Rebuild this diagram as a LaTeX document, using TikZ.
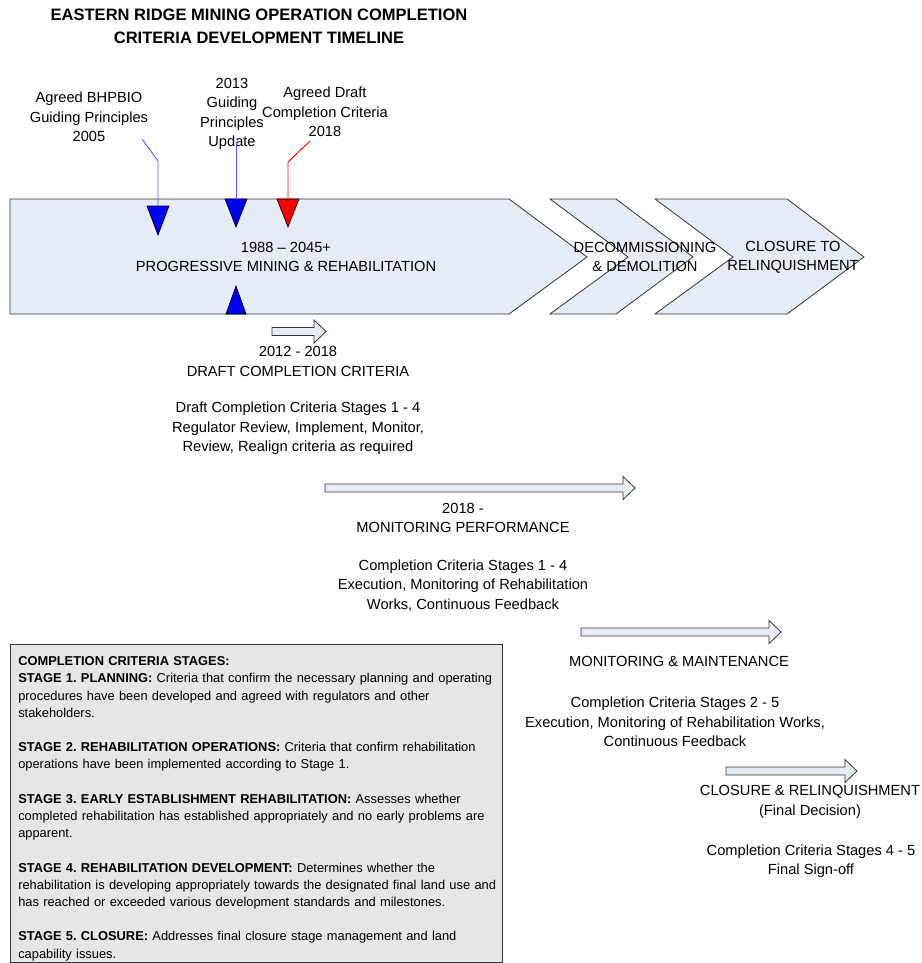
\documentclass[tikz,border=0pt]{standalone}
\usepackage{fontspec}
\setmainfont{Liberation Sans}
\usetikzlibrary{positioning, calc}
\frenchspacing

\definecolor{phasefill}{RGB}{230,236,246}
\definecolor{boxfill}{RGB}{230,230,230}
\definecolor{markblue}{RGB}{0,0,255}
\definecolor{lineblue}{RGB}{90,90,255}

\begin{document}
\begin{tikzpicture}[
      x=0.75pt, y=-0.75pt,
      lbl/.style={font=\fontsize{11}{14.5}\selectfont, align=center, inner sep=0pt},
      heading/.style={font=\bfseries\fontsize{12.4}{17.2}\selectfont, align=center, inner sep=0pt},
      chevron/.style={draw=black!80, line width=0.6pt, fill=phasefill},
      phase/.style={draw=black!80, line width=0.6pt, fill=phasefill},
      marker/.style={draw=black, line width=0.5pt},
      bline/.style={draw=lineblue, line width=0.7pt},
      rline/.style={draw=red, line width=0.7pt},
      stagebox/.style={draw=black!80, line width=0.6pt, fill=boxfill},
      stagetext/.style={font=\fontsize{9.65}{12.9}\selectfont, text width=365pt, align=left, inner sep=0pt}
    ]
    \path[use as bounding box, fill=white] (0,0) rectangle (921,963);

    \node[heading] (title) at (259,26) {EASTERN RIDGE MINING OPERATION COMPLETION\\CRITERIA DEVELOPMENT TIMELINE};

    % chevrons
    \draw[chevron] (10,199) -- (509,199) -- (587,257) -- (509,314) -- (10,314) -- cycle;
    \draw[chevron] (550,199) -- (616,199) -- (693,257) -- (616,314) -- (550,314) -- (628,257) -- cycle;
    \draw[chevron] (655,199) -- (787,199) -- (864,257) -- (787,314) -- (655,314) -- (733,257) -- cycle;

    \node[lbl] (mining) at (286,257) {1988 -- 2045+\\PROGRESSIVE MINING \& REHABILITATION};
    \node[lbl] (decom) at (645,257) {DECOMMISSIONING\\\& DEMOLITION};
    \node[lbl] (closure) at (793,257) {CLOSURE TO\\RELINQUISHMENT};

    % milestone markers
    \foreach \xc/\yt/\hh/\col in {158/206/29/markblue, 236/199/28/markblue, 288/199/28/red}
      \filldraw[marker, fill=\col] (\xc-11,\yt) -- (\xc+11,\yt) -- (\xc,\yt+\hh) -- cycle;
    \filldraw[marker, fill=markblue] (226,314) -- (246,314) -- (236,286) -- cycle;

    \coordinate (m1) at (158,206);
    \coordinate (m2) at (236,199);
    \coordinate (m3) at (288,199);
    \coordinate (k1) at (158,161);
    \coordinate (k3) at (288,162);
    \coordinate (s1) at (142,139);
    \coordinate (s2) at (236,142);
    \coordinate (s3) at (310,141);

    \node[lbl] (bhp) at (89,117) {Agreed BHPBIO\\Guiding Principles\\2005};
    \node[lbl] (update) at (232,114) {2013\\Guiding\\Principles\\Update};
    \node[lbl] (draft) at (325,112) {Agreed Draft\\Completion Criteria\\2018};

    \draw[bline] (s1) -- (k1) -- (m1);
    \draw[bline] (s2) -- (m2);
    \draw[rline] (s3) -- (k3) -- (m3);

    % phase arrows
    \foreach \xa/\xb/\yc in {272/326/331.5, 325/635/488, 581/781/632, 726/857/771}
      \draw[phase] (\xa,\yc-4) -- (\xb-12,\yc-4) -- (\xb-12,\yc-11.5) -- (\xb,\yc)
        -- (\xb-12,\yc+11.5) -- (\xb-12,\yc+4) -- (\xa,\yc+4) -- cycle;

    \node[lbl] (dcc) at (298,361.5) {2012 - 2018\\DRAFT COMPLETION CRITERIA};
    \node[lbl] (dccnote) at (298,428.5) {Draft Completion Criteria Stages 1 - 4\\Regulator Review, Implement, Monitor,\\Review, Realign criteria as required};

    \node[lbl] (perf) at (463,518) {2018 -\\MONITORING PERFORMANCE};
    \node[lbl] (perfnote) at (463,585.5) {Completion Criteria Stages 1 - 4\\Execution, Monitoring of Rehabilitation\\Works, Continuous Feedback};

    \node[lbl] (maint) at (679,661) {MONITORING \& MAINTENANCE};
    \node[lbl] (maintnote) at (675,722) {Completion Criteria Stages 2 - 5\\Execution, Monitoring of Rehabilitation Works,\\Continuous Feedback};

    \node[lbl] (relinq) at (810,802) {CLOSURE \& RELINQUISHMENT\\(Final Decision)};
    \node[lbl] (relinqnote) at (811,861) {Completion Criteria Stages 4 - 5\\Final Sign-off};

    % stages legend
    \draw[stagebox] (10,644) rectangle (502,962);
    \node[stagetext, anchor=north west] (stages) at (18,656.4) {%
      \textbf{COMPLETION CRITERIA STAGES:}\\
      \textbf{STAGE 1. PLANNING:} Criteria that confirm the necessary planning and operating\\
      procedures have been developed and agreed with regulators and other\\
      stakeholders.\\[12.9pt]
      \textbf{STAGE 2. REHABILITATION OPERATIONS:} Criteria that confirm rehabilitation\\
      operations have been implemented according to Stage 1.\\[12.9pt]
      \textbf{STAGE 3. EARLY ESTABLISHMENT REHABILITATION:} Assesses whether\\
      completed rehabilitation has established appropriately and no early problems are\\
      apparent.\\[12.9pt]
      \textbf{STAGE 4. REHABILITATION DEVELOPMENT:} Determines whether the\\
      rehabilitation is developing appropriately towards the designated final land use and\\
      has reached or exceeded various development standards and milestones.\\[12.9pt]
      \textbf{STAGE 5. CLOSURE:} Addresses final closure stage management and land\\
      capability issues.};
  \end{tikzpicture}
\end{document}
